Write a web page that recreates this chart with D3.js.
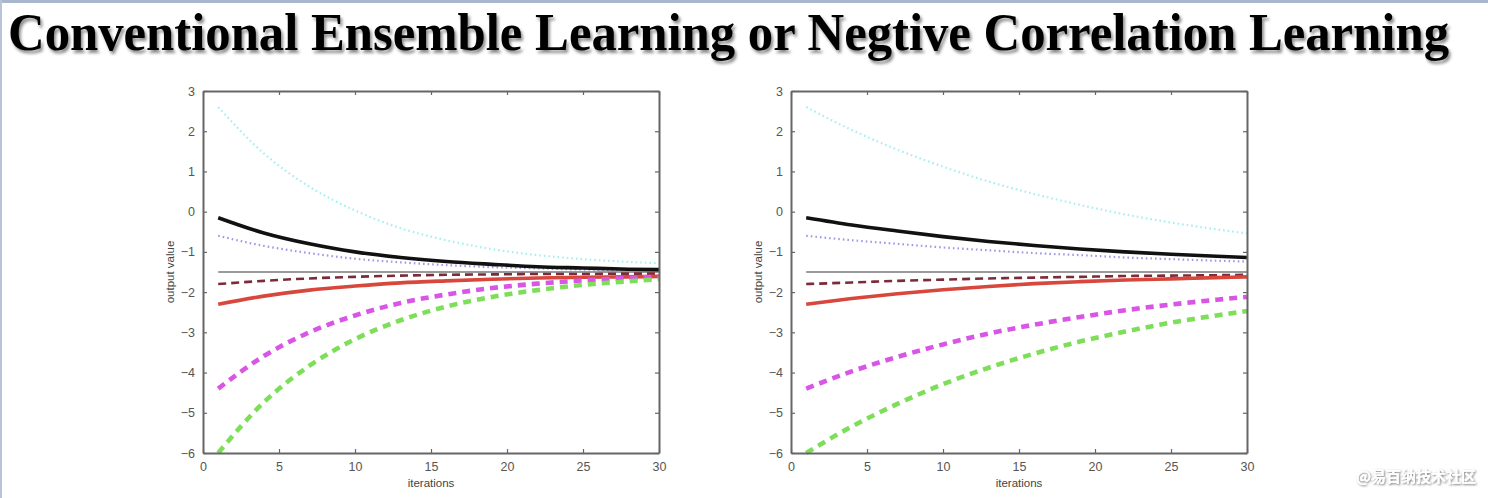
<!DOCTYPE html>
<html>
<head>
<meta charset="utf-8">
<script src="https://cdn.jsdelivr.net/npm/d3@7"></script>
<style>
  html, body { margin: 0; padding: 0; background: #fff; }
  svg { display: block; }
</style>
</head>
<body>
<svg id="chart" width="1488" height="498"></svg>
<script>
// ---------------- data ----------------
const titleText = "Conventional Ensemble Learning or Negtive Correlation Learning";
const watermarkText = "@易百纳技术社区";
const xLabel = "iterations";
const yLabel = "output value";
const xTicks = [0, 5, 10, 15, 20, 25, 30];
const yTicks = [3, 2, 1, 0, -1, -2, -3, -4, -5, -6];

const iterations = [1, 4, 7, 10, 13, 16, 19, 22, 25, 28, 30];

// Left panel: conventional ensemble learning
const ensembleCyan     = [2.6, 1.45, 0.62, 0.03, -0.41, -0.71, -0.93, -1.08, -1.18, -1.25, -1.28];
const ensembleBlack    = [-0.15, -0.53, -0.80, -1.00, -1.14, -1.24, -1.31, -1.37, -1.40, -1.43, -1.44];
const ensembleLavender = [-0.6, -0.85, -1.03, -1.17, -1.26, -1.33, -1.38, -1.41, -1.44, -1.45, -1.46];
const ensembleGray     = [-1.5, -1.5, -1.5, -1.5, -1.5, -1.5, -1.5, -1.5, -1.5, -1.5, -1.5];
const ensembleMaroon   = [-1.8, -1.72, -1.66, -1.62, -1.59, -1.57, -1.56, -1.55, -1.55, -1.54, -1.54];
const ensembleRed      = [-2.3, -2.10, -1.95, -1.85, -1.77, -1.72, -1.68, -1.65, -1.63, -1.62, -1.61];
const ensembleMagenta  = [-4.4, -3.59, -3.00, -2.58, -2.27, -2.06, -1.90, -1.79, -1.71, -1.65, -1.62];
const ensembleGreen    = [-6.0, -4.74, -3.83, -3.17, -2.70, -2.36, -2.12, -1.95, -1.82, -1.73, -1.68];

// Right panel: negative correlation learning
const nclCyan     = [2.6, 2.03, 1.54, 1.12, 0.75, 0.44, 0.17, -0.07, -0.27, -0.44, -0.54];
const nclBlack    = [-0.15, -0.33, -0.48, -0.62, -0.74, -0.84, -0.93, -1.00, -1.06, -1.11, -1.14];
const nclLavender = [-0.6, -0.71, -0.80, -0.89, -0.96, -1.03, -1.08, -1.14, -1.18, -1.22, -1.24];
const nclGray     = [-1.5, -1.5, -1.5, -1.5, -1.5, -1.5, -1.5, -1.5, -1.5, -1.5, -1.5];
const nclMaroon   = [-1.8, -1.76, -1.72, -1.69, -1.66, -1.64, -1.62, -1.60, -1.59, -1.58, -1.57];
const nclRed      = [-2.3, -2.16, -2.04, -1.94, -1.86, -1.79, -1.74, -1.70, -1.67, -1.64, -1.62];
const nclMagenta  = [-4.4, -3.97, -3.61, -3.30, -3.03, -2.81, -2.62, -2.45, -2.31, -2.19, -2.12];
const nclGreen    = [-6.0, -5.34, -4.78, -4.29, -3.88, -3.53, -3.23, -2.98, -2.76, -2.58, -2.47];

// ---------------- styles ----------------
const styles = {
  cyan:     { stroke: "#a6eef0", width: 2.2, dash: "1.6,3" },
  lavender: { stroke: "#9d9be8", width: 2.2, dash: "1.6,3" },
  gray:     { stroke: "#9a9a9a", width: 1.8, dash: null },
  black:    { stroke: "#111111", width: 3.6, dash: null },
  maroon:   { stroke: "#7c2b3a", width: 2.6, dash: "8,5" },
  red:      { stroke: "#d8473c", width: 3.6, dash: null },
  magenta:  { stroke: "#d955e6", width: 4.6, dash: "8,6" },
  green:    { stroke: "#7ede5a", width: 4.6, dash: "8,6" }
};

const panels = [
  { left: 203, series: [
      ["cyan", ensembleCyan], ["lavender", ensembleLavender], ["gray", ensembleGray],
      ["black", ensembleBlack], ["maroon", ensembleMaroon], ["red", ensembleRed],
      ["magenta", ensembleMagenta], ["green", ensembleGreen]] },
  { left: 791, series: [
      ["cyan", nclCyan], ["lavender", nclLavender], ["gray", nclGray],
      ["black", nclBlack], ["maroon", nclMaroon], ["red", nclRed],
      ["magenta", nclMagenta], ["green", nclGreen]] }
];

const svg = d3.select("#chart");

// defs: shadows
const defs = svg.append("defs");
const f1 = defs.append("filter").attr("id", "titleShadow")
  .attr("x", "-5%").attr("y", "-30%").attr("width", "110%").attr("height", "160%");
f1.append("feDropShadow").attr("dx", 2).attr("dy", 3).attr("stdDeviation", 1.6)
  .attr("flood-color", "#000").attr("flood-opacity", 0.45);
const f2 = defs.append("filter").attr("id", "wmShadow")
  .attr("x", "-10%").attr("y", "-40%").attr("width", "120%").attr("height", "180%");
f2.append("feDropShadow").attr("dx", 1).attr("dy", 1).attr("stdDeviation", 1)
  .attr("flood-color", "#000").attr("flood-opacity", 0.55);

// slide border
svg.append("rect").attr("x", 0).attr("y", 0).attr("width", 1488).attr("height", 3).attr("fill", "#a9b7cc");
svg.append("rect").attr("x", 0).attr("y", 0).attr("width", 2).attr("height", 498).attr("fill", "#b8c4d6");

// title
svg.append("text")
  .attr("x", 8).attr("y", 50)
  .attr("font-family", "'Liberation Serif', 'Times New Roman', serif")
  .attr("font-weight", "bold")
  .attr("font-size", 52)
  .attr("fill", "#000")
  .attr("textLength", 1441)
  .attr("lengthAdjust", "spacingAndGlyphs")
  .attr("filter", "url(#titleShadow)")
  .text(titleText);

const plotW = 456, plotTop = 91, plotBottom = 453;

panels.forEach(p => {
  const x = d3.scaleLinear().domain([0, 30]).range([p.left, p.left + plotW]);
  const y = d3.scaleLinear().domain([-6, 3]).range([plotBottom, plotTop]);
  const g = svg.append("g");

  // plot background
  g.append("rect").attr("x", p.left).attr("y", plotTop)
    .attr("width", plotW).attr("height", plotBottom - plotTop).attr("fill", "#fff");

  const line = d3.line()
    .x((d, i) => x(iterations[i]))
    .y(d => y(d))
    .curve(d3.curveMonotoneX);

  p.series.forEach(([key, values]) => {
    const s = styles[key];
    g.append("path")
      .datum(values)
      .attr("d", line)
      .attr("fill", "none")
      .attr("stroke", s.stroke)
      .attr("stroke-width", s.width)
      .attr("stroke-dasharray", s.dash)
      .attr("stroke-linecap", "butt");
  });

  const axisColor = "#666";
  const tickFont = "'Liberation Sans', Arial, sans-serif";

  const ax = g.append("g").attr("transform", `translate(0,${plotBottom})`)
    .call(d3.axisBottom(x).tickValues(xTicks).tickSizeInner(-4).tickSizeOuter(0).tickPadding(9));
  const ay = g.append("g").attr("transform", `translate(${p.left},0)`)
    .call(d3.axisLeft(y).tickValues(yTicks).tickSizeInner(-4).tickSizeOuter(0).tickPadding(8)
      .tickFormat(d => d < 0 ? "\u2212" + Math.abs(d) : d));
  const at = g.append("g").attr("transform", `translate(0,${plotTop})`)
    .call(d3.axisTop(x).tickValues(xTicks).tickSizeInner(-4).tickSizeOuter(0).tickFormat(""));
  const ar = g.append("g").attr("transform", `translate(${p.left + plotW},0)`)
    .call(d3.axisRight(y).tickValues(yTicks).tickSizeInner(-4).tickSizeOuter(0).tickFormat(""));

  [ax, ay, at, ar].forEach(a => {
    a.selectAll(".domain").attr("stroke", axisColor).attr("stroke-width", 2);
    a.selectAll(".tick line").attr("stroke", axisColor).attr("stroke-width", 1.2);
    a.selectAll(".tick text").attr("fill", "#555").attr("font-size", 12.5)
      .attr("font-family", tickFont);
  });

  g.append("text")
    .attr("x", p.left + plotW / 2).attr("y", 487)
    .attr("text-anchor", "middle")
    .attr("font-family", tickFont).attr("font-size", 11.5).attr("fill", "#444")
    .text(xLabel);

  g.append("text")
    .attr("transform", `translate(${p.left - 29},${(plotTop + plotBottom) / 2}) rotate(-90)`)
    .attr("text-anchor", "middle")
    .attr("font-family", tickFont).attr("font-size", 11.5).attr("fill", "#444")
    .text(yLabel);
});

// watermark
svg.append("text")
  .attr("x", 1476).attr("y", 482)
  .attr("text-anchor", "end")
  .attr("font-family", "'Noto Sans CJK SC', sans-serif")
  .attr("font-weight", "bold")
  .attr("font-size", 15)
  .attr("fill", "#fff")
  .attr("filter", "url(#wmShadow)")
  .text(watermarkText);
</script>
</body>
</html>
